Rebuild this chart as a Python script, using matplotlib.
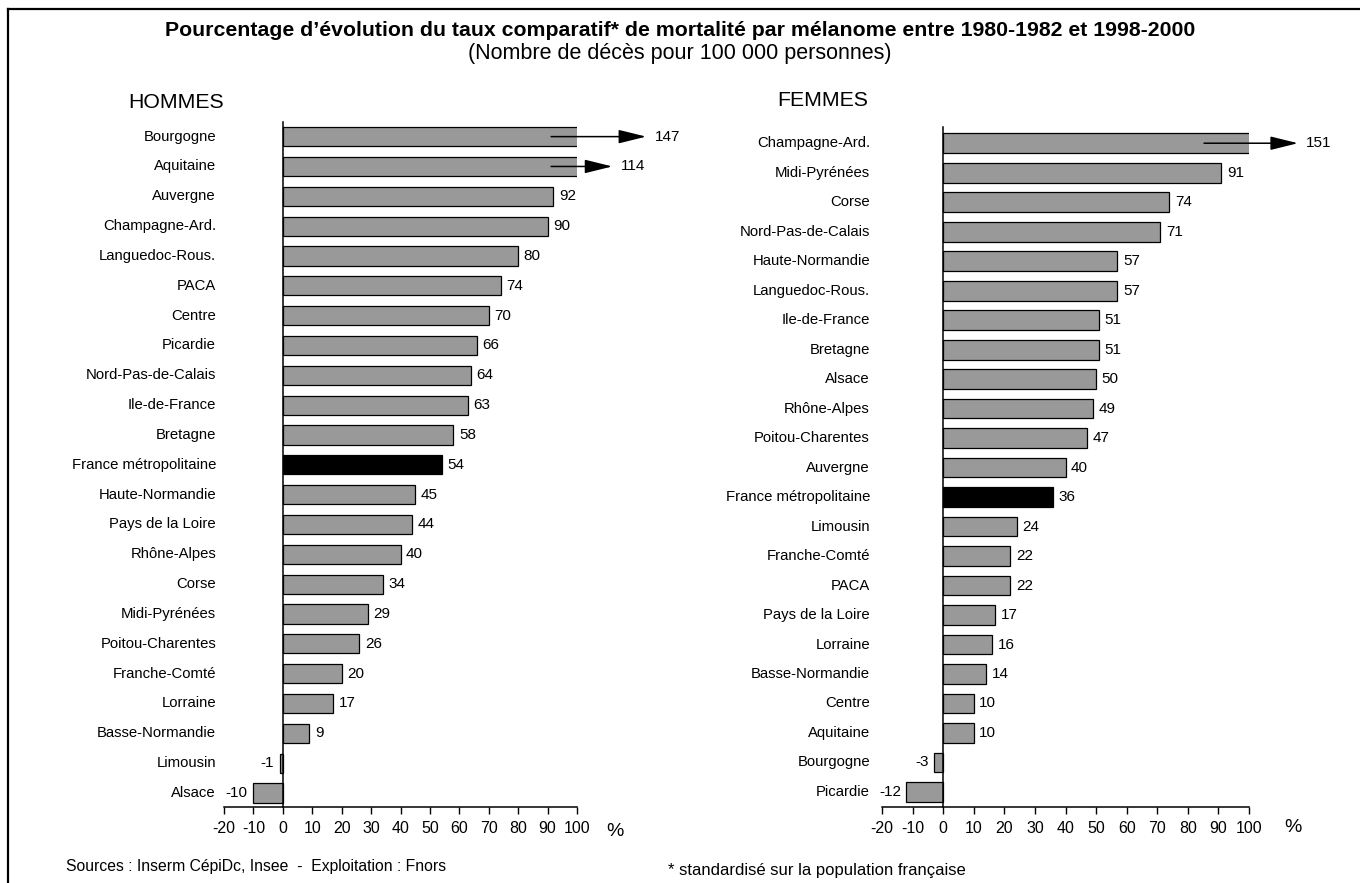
import matplotlib
matplotlib.use("Agg")
import matplotlib.pyplot as plt
from matplotlib.lines import Line2D
from matplotlib.transforms import blended_transform_factory

plt.rcParams['font.family'] = ['Liberation Sans', 'DejaVu Sans']

# --- data -------------------------------------------------------------
hommes_regions = [
    "Bourgogne", "Aquitaine", "Auvergne", "Champagne-Ard.", "Languedoc-Rous.",
    "PACA", "Centre", "Picardie", "Nord-Pas-de-Calais", "Ile-de-France",
    "Bretagne", "France métropolitaine", "Haute-Normandie", "Pays de la Loire",
    "Rhône-Alpes", "Corse", "Midi-Pyrénées", "Poitou-Charentes",
    "Franche-Comté", "Lorraine", "Basse-Normandie", "Limousin", "Alsace",
]
hommes_values = [147, 114, 92, 90, 80, 74, 70, 66, 64, 63, 58, 54, 45, 44,
                 40, 34, 29, 26, 20, 17, 9, -1, -10]

femmes_regions = [
    "Champagne-Ard.", "Midi-Pyrénées", "Corse", "Nord-Pas-de-Calais",
    "Haute-Normandie", "Languedoc-Rous.", "Ile-de-France", "Bretagne",
    "Alsace", "Rhône-Alpes", "Poitou-Charentes", "Auvergne",
    "France métropolitaine", "Limousin", "Franche-Comté", "PACA",
    "Pays de la Loire", "Lorraine", "Basse-Normandie", "Centre", "Aquitaine",
    "Bourgogne", "Picardie",
]
femmes_values = [151, 91, 74, 71, 57, 57, 51, 51, 50, 49, 47, 40, 36, 24,
                 22, 22, 17, 16, 14, 10, 10, -3, -12]

x_ticks = [-20, -10, 0, 10, 20, 30, 40, 50, 60, 70, 80, 90, 100]
national_label = "France métropolitaine"

title = ("Pourcentage d’évolution du taux comparatif* de mortalité par "
         "mélanome entre 1980-1982 et 1998-2000")
subtitle = "(Nombre de décès pour 100 000 personnes)"
source_note = "Sources : Inserm CépiDc, Insee  -  Exploitation : Fnors"
footnote = "* standardisé sur la population française"

# --- figure -----------------------------------------------------------
W, H = 1360, 883
fig = plt.figure(figsize=(W / 100, H / 100), dpi=100)


def fx(px):
    return px / W


def fy(py):
    return 1 - py / H


GRAY = "#999999"
XMAX = 100


def panel(rect, regions, values, ylim, bar_h, label_x_px, arrows, heading,
          heading_px, pct_px):
    ax = fig.add_axes(rect)
    n = len(regions)
    ypos = list(range(n))
    colors = ["black" if r == national_label else GRAY for r in regions]
    ax.barh(ypos, values, height=bar_h, color=colors, edgecolor="black",
            linewidth=0.9)
    ax.set_xlim(-20, XMAX)
    ax.set_ylim(*ylim)

    for s in ("top", "right"):
        ax.spines[s].set_visible(False)
    ax.spines["left"].set_position(("data", 0))
    ax.spines["left"].set_linewidth(1.1)
    ax.spines["bottom"].set_linewidth(1.1)
    ax.set_yticks([])
    ax.set_xticks(x_ticks)
    ax.set_xticklabels([str(t) for t in x_ticks])
    ax.tick_params(axis="x", direction="out", length=5, width=1.0,
                   labelsize=11.5, pad=5)

    # category names, right-aligned left of the plot
    tr = blended_transform_factory(fig.transFigure, ax.transData)
    for y, r in zip(ypos, regions):
        ax.text(fx(label_x_px), y, r, transform=tr, ha="right", va="center",
                fontsize=10.7)

    # value labels (values beyond the axis get an arrow)
    for y, v in zip(ypos, values):
        if v > XMAX:
            start, end = arrows[v]
            ax.annotate("", xy=(end, y), xytext=(start, y),
                        annotation_clip=False,
                        arrowprops=dict(arrowstyle="-|>,head_length=1.7,head_width=0.42",
                                        mutation_scale=10, lw=1.1,
                                        color="black", shrinkA=0, shrinkB=0))
            ax.annotate(str(v), xy=(end, y), xytext=(6, 0),
                        textcoords="offset points", ha="left", va="center",
                        fontsize=11, annotation_clip=False)
        elif v >= 0:
            ax.annotate(str(v), xy=(v, y), xytext=(4, 0),
                        textcoords="offset points", ha="left", va="center",
                        fontsize=11)
        else:
            ax.annotate(str(v), xy=(v, y), xytext=(-4, 0),
                        textcoords="offset points", ha="right", va="center",
                        fontsize=11)

    fig.text(fx(heading_px[0]), fy(heading_px[1]), heading, ha="left",
             va="center", fontsize=15.3)
    fig.text(fx(pct_px[0]), fy(pct_px[1]), "%", ha="center", va="center",
             fontsize=14)
    return ax


# left panel: men
panel([fx(224), fy(807), fx(577 - 224), (807 - 122) / H],
      hommes_regions, hommes_values, (22.47, -0.49), 0.64, 216,
      {147: (91.2, 123.5), 114: (91.2, 112.0)},
      "HOMMES", (128, 103), (615, 831))

# right panel: women
panel([fx(882), fy(807), fx(1249 - 882), (807 - 127) / H],
      femmes_regions, femmes_values, (22.51, -0.55), 0.67, 870,
      {151: (85.3, 116.0)},
      "FEMMES", (777, 101), (1293, 828))

# titles and notes
fig.text(0.5, fy(31), title, ha="center", va="center", fontsize=15.3,
         fontweight="bold")
fig.text(0.5, fy(54), subtitle, ha="center", va="center", fontsize=15.5)
fig.text(fx(66), fy(867), source_note, ha="left", va="center", fontsize=11.3)
fig.text(fx(668), fy(870), footnote, ha="left", va="center", fontsize=12)

# frame lines along top and left edges
fig.add_artist(Line2D([fx(8), 1], [fy(9), fy(9)], color="black", lw=1.6,
                      transform=fig.transFigure))
fig.add_artist(Line2D([fx(8), fx(8)], [fy(9), 0], color="black", lw=1.6,
                      transform=fig.transFigure))

fig.savefig("out.png", dpi=100)
